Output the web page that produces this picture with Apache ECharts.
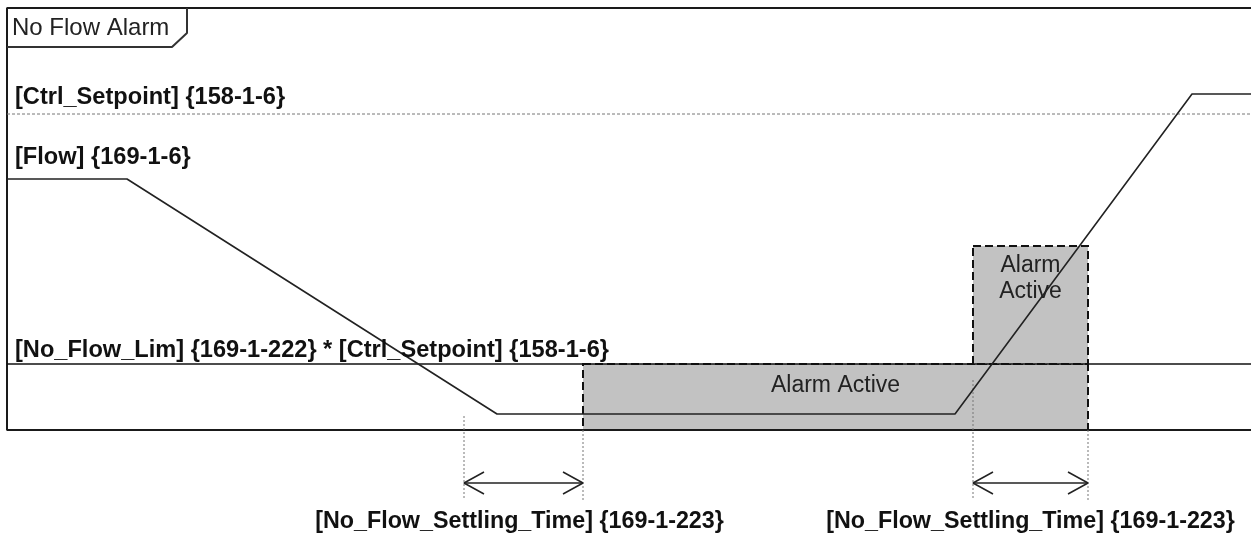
<!DOCTYPE html>
<html>
<head>
<meta charset="utf-8">
<script src="https://cdn.jsdelivr.net/npm/echarts@6/dist/echarts.min.js"></script>
<style>
  html, body { margin: 0; padding: 0; background: #fff; }
  #main { width: 1251px; height: 535px; }
</style>
</head>
<body>
<div id="main"></div>
<script>
// timing diagram: x = time position, y = signal level (0 = baseline)
var flowTime  = [7, 127, 497, 955, 1192, 1251];
var flowLevel = [251, 251, 16, 16, 336, 336];

var setpointLevel = 316;
var noFlowLimLevel = 66;
var frameTop = 422;

// alarm active periods
var alarmStart  = [583, 973];
var alarmEnd    = [1088, 1088];
var alarmBottom = [0, 66];
var alarmTop    = [66, 184];
var alarmText   = ['Alarm Active', 'Alarm\nActive'];

// settling time intervals
var settlingStart = [464, 973];
var settlingEnd   = [583, 1088];
var guideTime  = [464, 583, 973, 1088];
var guideFrom  = [14, 0, 50, 0];
var guideTo    = -70;
var arrowLevel = -53;

var signalLabels = ['[Ctrl_Setpoint] {158-1-6}', '[Flow] {169-1-6}', '[No_Flow_Lim] {169-1-222} * [Ctrl_Setpoint] {158-1-6}'];
var signalLabelLevel = [333, 273, 80];
var settlingLabel = '[No_Flow_Settling_Time] {169-1-223}';
var settlingLabelLevel = -92;
var title = 'No Flow Alarm';

var chart = echarts.init(document.getElementById('main'));

function seg(points, color, width, type, z) {
  return {
    type: 'line',
    data: points,
    symbol: 'none',
    silent: true,
    clip: false,
    animation: false,
    z: z || 3,
    lineStyle: { color: color, width: width, type: type || 'solid', cap: 'butt' }
  };
}

var series = [];

// frame and title tab
series.push(seg([[1251, frameTop], [7, frameTop], [7, 0], [1251, 0]], '#1a1a1a', 2));
series.push(seg([[187, frameTop], [187, frameTop - 25], [172, frameTop - 39], [7, frameTop - 39]], '#333', 2));

// ctrl setpoint (dotted)
series.push(seg([[7, setpointLevel], [1251, setpointLevel]], '#777', 1, [3, 2]));

// no flow limit with alarm areas
var lim = seg([[7, noFlowLimLevel], [1251, noFlowLimLevel]], '#111', 1.3);
lim.markArea = {
  silent: true,
  itemStyle: { color: '#c2c2c2', borderColor: '#111', borderWidth: 2, borderType: [8, 4] },
  label: { show: true, position: 'insideTop', color: '#222', textBorderWidth: 0, fontFamily: 'Liberation Sans', fontSize: 23, lineHeight: 26 },
  data: alarmStart.map(function (s, i) {
    return [
      { coord: [s, alarmTop[i]], name: alarmText[i], label: { distance: i === 0 ? 10 : 8 } },
      { coord: [alarmEnd[i], alarmBottom[i]] }
    ];
  })
};
series.push(lim);

// flow
series.push(seg(flowTime.map(function (t, i) { return [t, flowLevel[i]]; }), '#222', 1.6, 'solid', 5));

// guide lines (dotted)
guideTime.forEach(function (t, i) {
  series.push(seg([[t, guideFrom[i]], [t, guideTo]], '#777', 1, [2, 2]));
});

// settling time arrows
settlingStart.forEach(function (s, i) {
  var e = settlingEnd[i];
  series.push(seg([[s, arrowLevel], [e, arrowLevel]], '#222', 1.5));
  series.push(seg([[s + 20, arrowLevel + 11], [s, arrowLevel], [s + 20, arrowLevel - 11]], '#222', 1.5));
  series.push(seg([[e - 20, arrowLevel + 11], [e, arrowLevel], [e - 20, arrowLevel - 11]], '#222', 1.5));
});

// text labels
var textData = [];
signalLabels.forEach(function (txt, i) {
  textData.push({ value: [15, signalLabelLevel[i]], label: { formatter: txt, align: 'left', fontWeight: 'bold' } });
});
settlingStart.forEach(function (s, i) {
  textData.push({ value: [(s + settlingEnd[i]) / 2 - (i === 0 ? 4 : 0), settlingLabelLevel], label: { formatter: settlingLabel, align: 'center', fontWeight: 'bold', fontSize: 23.3 } });
});
textData.push({ value: [12, frameTop - 20], label: { formatter: title, align: 'left', fontWeight: 'normal', fontSize: 24, color: '#222' } });

series.push({
  type: 'scatter',
  symbolSize: 0,
  silent: true,
  animation: false,
  z: 6,
  itemStyle: { opacity: 1 },
  data: textData,
  label: {
    show: true,
    position: 'inside',
    verticalAlign: 'middle',
    color: '#111',
    opacity: 1,
    textBorderWidth: 0,
    textBorderColor: 'transparent',
    fontFamily: 'Liberation Sans',
    fontSize: 23.6
  }
});

chart.setOption({
  animation: false,
  grid: { left: 0, right: 0, top: 0, bottom: 0 },
  xAxis: { type: 'value', min: 0, max: 1251, show: false },
  yAxis: { type: 'value', min: -105, max: 430, show: false },
  series: series
});
</script>
</body>
</html>
